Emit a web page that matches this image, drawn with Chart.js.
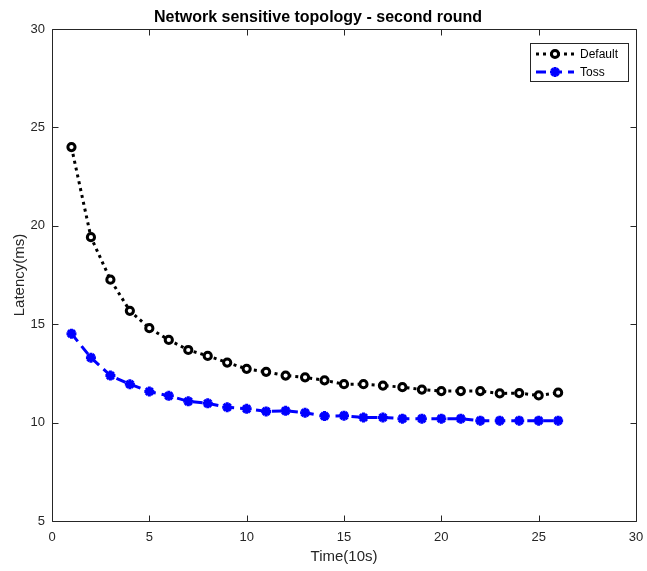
<!DOCTYPE html>
<html>
<head>
<meta charset="utf-8">
<title>Network sensitive topology - second round</title>
<script src="https://cdn.jsdelivr.net/npm/chart.js@4.4.1/dist/chart.umd.min.js"></script>
<style>
  html, body { margin: 0; padding: 0; background: #fff; }
  canvas { display: block; }
</style>
</head>
<body>
<canvas id="myChart" width="647" height="571"></canvas>
<script>
// time steps (x 10s)
const timeSteps = [1, 2, 3, 4, 5, 6, 7, 8, 9, 10, 11, 12, 13, 14, 15, 16, 17, 18, 19, 20, 21, 22, 23, 24, 25, 26]

// latency in ms
const defaultLatency = [24.0, 19.42, 17.26, 15.68, 14.8, 14.2, 13.69, 13.39, 13.05, 12.73, 12.58, 12.39, 12.3, 12.15, 11.95, 11.95, 11.88, 11.8, 11.68, 11.6, 11.6, 11.6, 11.48, 11.5, 11.38, 11.52]
const tossLatency = [14.52, 13.3, 12.39, 11.95, 11.58, 11.36, 11.08, 10.98, 10.78, 10.7, 10.57, 10.6, 10.5, 10.33, 10.35, 10.26, 10.26, 10.2, 10.2, 10.2, 10.2, 10.1, 10.1, 10.1, 10.1, 10.1]

const xTicks = [0, 5, 10, 15, 20, 25, 30]
const yTicks = [5, 10, 15, 20, 25, 30]

const axisColor = '#262626'
const font = 'Liberation Sans, Arial, Helvetica, sans-serif'

const toPoints = (ys) => timeSteps.map((x, i) => ({ x: x, y: ys[i] }))

// box around the plot, inward ticks and the legend
const framePlugin = {
  id: 'frame',
  afterDraw(chart) {
    const ctx = chart.ctx
    const area = chart.chartArea
    const xs = chart.scales.x, ys = chart.scales.y
    const L = Math.round(area.left) + 0.5, R = Math.round(area.right) + 0.5
    const T = Math.round(area.top) + 0.5, B = Math.round(area.bottom) + 0.5
    const tick = 6

    ctx.save()
    ctx.strokeStyle = axisColor
    ctx.lineWidth = 1
    ctx.setLineDash([])
    ctx.beginPath()
    ctx.rect(L, T, R - L, B - T)
    xTicks.forEach(v => {
      const px = Math.round(xs.getPixelForValue(v)) + 0.5
      ctx.moveTo(px, B); ctx.lineTo(px, B - tick)
      ctx.moveTo(px, T); ctx.lineTo(px, T + tick)
    })
    yTicks.forEach(v => {
      const py = Math.round(ys.getPixelForValue(v)) + 0.5
      ctx.moveTo(L, py); ctx.lineTo(L + tick, py)
      ctx.moveTo(R, py); ctx.lineTo(R - tick, py)
    })
    ctx.stroke()

    // legend
    const bx = 530.5, by = 43.5, bw = 98, bh = 38
    ctx.fillStyle = '#fff'
    ctx.fillRect(bx, by, bw, bh)
    ctx.strokeRect(bx, by, bw, bh)
    const rows = [54, 72]
    chart.data.datasets.forEach((ds, i) => {
      const y = rows[i]
      ctx.save()
      ctx.strokeStyle = ds.borderColor
      ctx.lineWidth = ds.borderWidth
      ctx.setLineDash(ds.borderDash)
      ctx.beginPath()
      ctx.moveTo(536, y)
      ctx.lineTo(574, y)
      ctx.stroke()
      ctx.restore()
      ctx.save()
      ctx.strokeStyle = ds.pointBorderColor
      ctx.fillStyle = ds.pointBackgroundColor
      ctx.lineWidth = ds.pointBorderWidth
      Chart.helpers.drawPoint(ctx, {
        pointStyle: ds.pointStyle,
        radius: ds.pointRadius,
        rotation: 0,
        borderWidth: ds.pointBorderWidth
      }, 555, y)
      ctx.restore()
      ctx.fillStyle = '#000'
      ctx.font = '12px ' + font
      ctx.textBaseline = 'middle'
      ctx.textAlign = 'left'
      ctx.fillText(ds.label, 580, y + 1)
    })
    ctx.restore()
  }
}

const data = {
  datasets: [{
    label: 'Default',
    data: toPoints(defaultLatency),
    borderColor: '#000000',
    borderWidth: 3,
    borderDash: [3, 4],
    pointStyle: 'circle',
    pointRadius: 3.6,
    pointBorderWidth: 3,
    pointBorderColor: '#000000',
    pointBackgroundColor: '#ffffff'
  }, {
    label: 'Toss',
    data: toPoints(tossLatency),
    borderColor: '#0000ff',
    borderWidth: 3,
    borderDash: [10, 6],
    pointStyle: 'star',
    pointRadius: 5,
    pointBorderWidth: 3,
    pointBorderColor: '#0000ff',
    pointBackgroundColor: '#0000ff'
  }]
}

const config = {
  type: 'line',
  data: data,
  options: {
    responsive: false,
    animation: false,
    devicePixelRatio: 1,
    layout: { padding: { top: 0, left: 0, right: 11, bottom: 0 } },
    elements: { line: { tension: 0 } },
    plugins: {
      legend: { display: false },
      tooltip: { enabled: false },
      title: {
        display: true,
        text: 'Network sensitive topology - second round',
        color: '#000',
        font: { family: font, size: 16, weight: 'bold', lineHeight: 1.2 },
        padding: { top: 7.5, bottom: 2.3 }
      }
    },
    scales: {
      x: {
        type: 'linear',
        min: 0,
        max: 30,
        afterFit: (scale) => { scale.height = 50 },
        afterBuildTicks: (scale) => { scale.ticks = xTicks.map(v => ({ value: v })) },
        // tick marks are drawn by the frame plugin, tickLength only spaces the labels
        grid: { display: false, drawTicks: true, tickLength: 6 },
        border: { display: false },
        ticks: { color: axisColor, font: { family: font, size: 13 }, padding: 3, maxRotation: 0 },
        title: {
          display: true,
          text: 'Time(10s)',
          color: axisColor,
          font: { family: font, size: 15 },
          padding: { top: 0, bottom: 5 }
        }
      },
      y: {
        type: 'linear',
        min: 5,
        max: 30,
        afterFit: (scale) => { scale.width = 52 },
        afterBuildTicks: (scale) => { scale.ticks = yTicks.map(v => ({ value: v })) },
        grid: { display: false, drawTicks: false },
        border: { display: false },
        ticks: { color: axisColor, font: { family: font, size: 13 }, padding: 7 },
        title: {
          display: true,
          text: 'Latency(ms)',
          color: axisColor,
          font: { family: font, size: 15 },
          padding: { top: 11, bottom: 0 }
        }
      }
    }
  },
  plugins: [framePlugin]
}

const myChart = new Chart(document.getElementById('myChart'), config)
</script>
</body>
</html>
